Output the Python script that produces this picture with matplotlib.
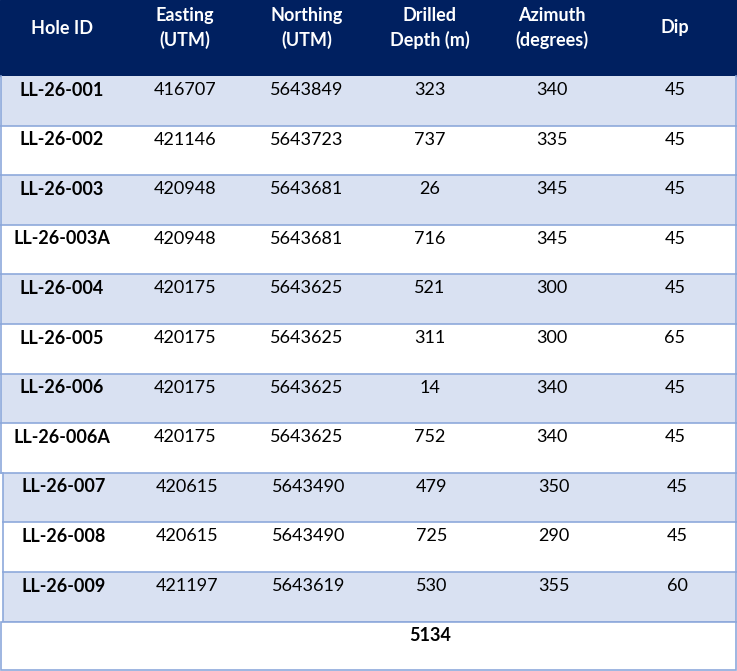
import matplotlib
matplotlib.use("Agg")
import matplotlib.pyplot as plt
from matplotlib.patches import Rectangle

# ---- table data ----
headers = ["Hole ID", "Easting\n(UTM)", "Northing\n(UTM)", "Drilled\nDepth (m)", "Azimuth\n(degrees)", "Dip"]
hole_id = ["LL-26-001", "LL-26-002", "LL-26-003", "LL-26-003A", "LL-26-004", "LL-26-005",
           "LL-26-006", "LL-26-006A", "LL-26-007", "LL-26-008", "LL-26-009"]
easting = [416707, 421146, 420948, 420948, 420175, 420175, 420175, 420175, 420615, 420615, 421197]
northing = [5643849, 5643723, 5643681, 5643681, 5643625, 5643625, 5643625, 5643625, 5643490, 5643490, 5643619]
depth = [323, 737, 26, 716, 521, 311, 14, 752, 479, 725, 530]
azimuth = [340, 335, 345, 345, 300, 300, 340, 340, 350, 290, 355]
dip = [45, 45, 45, 45, 45, 65, 45, 45, 45, 45, 60]
total_depth = 5134

plt.rcParams['font.family'] = ['Lato', 'DejaVu Sans']

W, H = 737, 671
fig = plt.figure(figsize=(W/100, H/100), dpi=100)
ax = fig.add_axes([0, 0, 1, 1])
ax.set_xlim(0, W)
ax.set_ylim(H, 0)
ax.axis('off')

navy = "#002060"
light = "#D9E1F2"
line = "#8EA9DB"
col_x = [62, 185, 307, 430, 552, 675]
head_h = 76
row_h = 49.6

# header
ax.add_patch(Rectangle((0, 0), W, head_h, color=navy, zorder=1))
for x, t in zip(col_x, headers):
    ax.text(x, 28, t, color="white", fontsize=13, fontweight="bold",
            ha="center", va="center", linespacing=1.45, zorder=3)

# data rows
n = len(hole_id)
for i in range(n):
    top = head_h + i * row_h
    shift = 2 if i >= 8 else 0
    face = light if i % 2 == 0 else "white"
    ax.add_patch(Rectangle((1 + shift, top), W - 2 - shift, row_h, facecolor=face,
                           edgecolor="none", zorder=1))
    ax.plot([1 + shift, W - 1], [top + row_h, top + row_h], color=line, lw=1.2, zorder=2)
    ax.plot([1 + shift, 1 + shift], [top, top + row_h], color=line, lw=1.2, zorder=2)
    ax.plot([W - 1, W - 1], [top, top + row_h], color=line, lw=1.2, zorder=2)
    vals = [hole_id[i], easting[i], northing[i], depth[i], azimuth[i], dip[i]]
    for j, (x, v) in enumerate(zip(col_x, vals)):
        ax.text(x + shift, top + 14, str(v), fontsize=13,
                fontweight="bold" if j == 0 else "normal",
                color="black", ha="center", va="center", zorder=3)

# total row
top = head_h + n * row_h
ax.add_patch(Rectangle((1, top), W - 2, H - top - 1.5, facecolor="white",
                       edgecolor=line, lw=1.2, zorder=2))
ax.text(col_x[3], top + 14, str(total_depth), fontsize=13, fontweight="bold",
        color="black", ha="center", va="center", zorder=3)

fig.savefig("out.png", dpi=100)
